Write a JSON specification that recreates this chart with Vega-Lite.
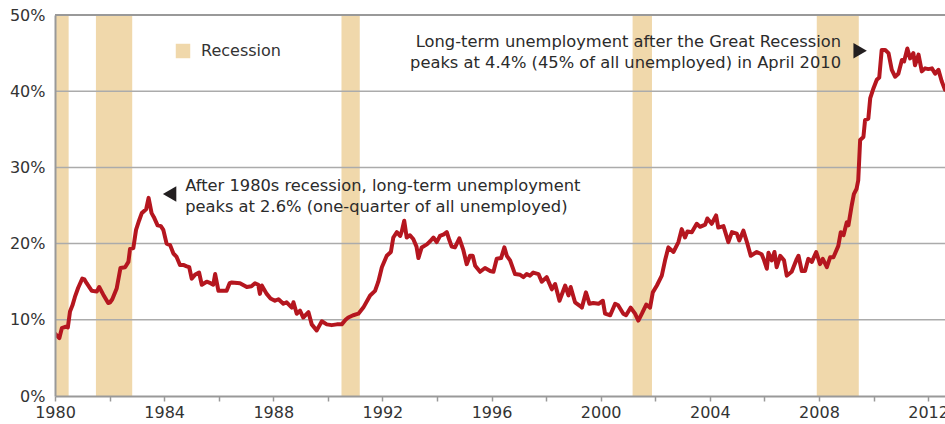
{
  "$schema": "https://vega.github.io/schema/vega-lite/v6.json",
  "width": 890,
  "height": 381,
  "autosize": {"type": "none"},
  "padding": {"left": 55, "top": 15, "right": 0, "bottom": 28},
  "background": "white",
  "config": {"view": {"stroke": null}, "font": "DejaVu Sans"},
  "layer": [
    {
      "data": {"values": [
        {"s": 1980.0, "e": 1980.5, "k": "Recession"},
        {"s": 1981.5, "e": 1982.83, "k": "Recession"},
        {"s": 1990.5, "e": 1991.17, "k": "Recession"},
        {"s": 2001.17, "e": 2001.88, "k": "Recession"},
        {"s": 2007.92, "e": 2009.46, "k": "Recession"}
      ]},
      "mark": {"type": "rect"},
      "encoding": {
        "x": {"field": "s", "type": "quantitative", "scale": {"domain": [1980, 2012.62], "nice": false, "zero": false}, "title": null},
        "x2": {"field": "e"},
        "color": {"field": "k", "type": "nominal", "scale": {"range": ["#F0D8AB"]},
          "legend": {"orient": "none", "legendX": 120, "legendY": 28, "title": null, "symbolType": "square", "symbolSize": 210, "symbolStrokeWidth": 0, "symbolOpacity": 1, "labelFontSize": 16, "labelFont": "DejaVu Sans", "labelColor": "#333333", "labelOffset": 10, "padding": 0}}
      }
    },
    {
      "data": {"values": [{"g": 10}, {"g": 20}, {"g": 30}, {"g": 40}, {"g": 50}]},
      "mark": {"type": "rule"},
      "encoding": {
        "y": {"field": "g", "type": "quantitative", "title": null},
        "color": {"condition": {"test": "datum.g === 50", "value": "#999999"}, "value": "#ababab"},
        "strokeWidth": {"condition": {"test": "datum.g === 50", "value": 2}, "value": 1.5}
      }
    },
    {
      "data": {"values": [
        {"t":1980.00,"v":8.2},{"t":1980.16,"v":7.6},{"t":1980.25,"v":8.9},{"t":1980.40,"v":9.1},{"t":1980.47,"v":9.0},{"t":1980.55,"v":11.1},{"t":1980.64,"v":11.9},{"t":1980.73,"v":13.0},{"t":1980.85,"v":14.2},{"t":1981.00,"v":15.4},{"t":1981.08,"v":15.3},{"t":1981.16,"v":14.8},{"t":1981.35,"v":13.8},{"t":1981.53,"v":13.7},{"t":1981.62,"v":14.3},{"t":1981.77,"v":13.3},{"t":1981.95,"v":12.2},{"t":1982.02,"v":12.3},{"t":1982.10,"v":12.7},{"t":1982.26,"v":14.1},{"t":1982.40,"v":16.8},{"t":1982.57,"v":16.9},{"t":1982.69,"v":17.6},{"t":1982.75,"v":19.3},{"t":1982.87,"v":19.4},{"t":1982.97,"v":21.8},{"t":1983.08,"v":23.0},{"t":1983.18,"v":24.0},{"t":1983.34,"v":24.5},{"t":1983.43,"v":26.0},{"t":1983.54,"v":24.0},{"t":1983.62,"v":23.5},{"t":1983.76,"v":22.4},{"t":1983.88,"v":22.3},{"t":1983.97,"v":21.8},{"t":1984.09,"v":20.0},{"t":1984.22,"v":19.8},{"t":1984.34,"v":18.7},{"t":1984.45,"v":18.3},{"t":1984.58,"v":17.2},{"t":1984.70,"v":17.2},{"t":1984.83,"v":17.0},{"t":1984.92,"v":16.9},
        {"t":1985.01,"v":15.4},{"t":1985.13,"v":15.9},{"t":1985.28,"v":16.2},{"t":1985.38,"v":14.6},{"t":1985.56,"v":15.0},{"t":1985.70,"v":14.8},{"t":1985.80,"v":14.6},{"t":1985.87,"v":16.0},{"t":1985.99,"v":13.8},{"t":1986.29,"v":13.8},{"t":1986.40,"v":14.8},{"t":1986.48,"v":14.9},{"t":1986.78,"v":14.8},{"t":1987.03,"v":14.3},{"t":1987.20,"v":14.4},{"t":1987.33,"v":14.8},{"t":1987.45,"v":14.6},{"t":1987.51,"v":13.4},{"t":1987.58,"v":14.5},{"t":1987.76,"v":13.4},{"t":1987.90,"v":12.8},{"t":1988.06,"v":12.5},{"t":1988.19,"v":12.7},{"t":1988.37,"v":12.1},{"t":1988.49,"v":12.3},{"t":1988.68,"v":11.6},{"t":1988.74,"v":12.3},{"t":1988.86,"v":10.8},{"t":1988.98,"v":11.2},{"t":1989.10,"v":10.3},{"t":1989.29,"v":11.0},{"t":1989.41,"v":9.4},{"t":1989.59,"v":8.6},{"t":1989.70,"v":9.3},{"t":1989.78,"v":9.8},{"t":1989.96,"v":9.4},
        {"t":1990.14,"v":9.3},{"t":1990.33,"v":9.4},{"t":1990.51,"v":9.4},{"t":1990.65,"v":10.0},{"t":1990.75,"v":10.3},{"t":1990.93,"v":10.6},{"t":1991.12,"v":10.8},{"t":1991.30,"v":11.6},{"t":1991.55,"v":13.2},{"t":1991.73,"v":13.8},{"t":1991.85,"v":15.0},{"t":1991.98,"v":16.9},{"t":1992.16,"v":18.4},{"t":1992.31,"v":18.9},{"t":1992.40,"v":20.8},{"t":1992.53,"v":21.5},{"t":1992.65,"v":21.0},{"t":1992.71,"v":21.6},{"t":1992.80,"v":23.0},{"t":1992.89,"v":20.8},{"t":1993.01,"v":21.1},{"t":1993.13,"v":20.6},{"t":1993.25,"v":19.6},{"t":1993.32,"v":18.1},{"t":1993.44,"v":19.5},{"t":1993.63,"v":19.9},{"t":1993.75,"v":20.3},{"t":1993.87,"v":20.8},{"t":1993.99,"v":20.2},{"t":1994.11,"v":21.0},{"t":1994.25,"v":21.2},{"t":1994.36,"v":21.5},{"t":1994.45,"v":20.5},{"t":1994.54,"v":19.6},{"t":1994.66,"v":19.5},{"t":1994.82,"v":20.7},{"t":1994.97,"v":19.1},
        {"t":1995.09,"v":17.3},{"t":1995.21,"v":18.4},{"t":1995.31,"v":18.4},{"t":1995.40,"v":17.1},{"t":1995.58,"v":16.3},{"t":1995.76,"v":16.8},{"t":1995.95,"v":16.4},{"t":1996.07,"v":16.3},{"t":1996.19,"v":18.0},{"t":1996.35,"v":18.1},{"t":1996.47,"v":19.5},{"t":1996.56,"v":18.4},{"t":1996.68,"v":17.8},{"t":1996.86,"v":16.0},{"t":1997.05,"v":15.9},{"t":1997.17,"v":15.6},{"t":1997.29,"v":16.0},{"t":1997.41,"v":15.8},{"t":1997.53,"v":16.2},{"t":1997.72,"v":16.0},{"t":1997.84,"v":15.0},{"t":1998.02,"v":15.6},{"t":1998.21,"v":14.0},{"t":1998.33,"v":14.7},{"t":1998.49,"v":12.5},{"t":1998.70,"v":14.5},{"t":1998.82,"v":13.2},{"t":1998.90,"v":14.3},{"t":1999.06,"v":12.3},{"t":1999.25,"v":11.8},{"t":1999.31,"v":11.6},{"t":1999.46,"v":13.6},{"t":1999.59,"v":12.1},{"t":1999.73,"v":12.2},{"t":1999.92,"v":12.1},
        {"t":2000.08,"v":12.5},{"t":2000.16,"v":10.8},{"t":2000.35,"v":10.6},{"t":2000.53,"v":12.1},{"t":2000.64,"v":11.9},{"t":2000.83,"v":10.8},{"t":2000.93,"v":10.6},{"t":2001.10,"v":11.6},{"t":2001.26,"v":10.8},{"t":2001.38,"v":9.9},{"t":2001.51,"v":10.8},{"t":2001.67,"v":12.0},{"t":2001.81,"v":11.6},{"t":2001.91,"v":13.6},{"t":2002.06,"v":14.5},{"t":2002.24,"v":15.8},{"t":2002.36,"v":17.8},{"t":2002.48,"v":19.5},{"t":2002.67,"v":18.9},{"t":2002.85,"v":20.2},{"t":2002.97,"v":21.9},{"t":2003.09,"v":20.8},{"t":2003.18,"v":21.6},{"t":2003.34,"v":21.5},{"t":2003.52,"v":22.6},{"t":2003.64,"v":22.2},{"t":2003.83,"v":22.5},{"t":2003.91,"v":23.3},{"t":2004.07,"v":22.6},{"t":2004.23,"v":23.7},{"t":2004.31,"v":22.1},{"t":2004.50,"v":22.3},{"t":2004.68,"v":20.2},{"t":2004.81,"v":21.5},{"t":2004.99,"v":21.3},
        {"t":2005.08,"v":20.4},{"t":2005.23,"v":21.7},{"t":2005.36,"v":20.2},{"t":2005.50,"v":18.4},{"t":2005.72,"v":18.9},{"t":2005.90,"v":18.6},{"t":2005.99,"v":17.8},{"t":2006.09,"v":16.7},{"t":2006.15,"v":18.8},{"t":2006.27,"v":17.8},{"t":2006.37,"v":18.9},{"t":2006.45,"v":16.9},{"t":2006.58,"v":18.4},{"t":2006.72,"v":17.8},{"t":2006.82,"v":15.8},{"t":2007.00,"v":16.3},{"t":2007.19,"v":18.0},{"t":2007.25,"v":18.4},{"t":2007.37,"v":16.4},{"t":2007.49,"v":16.4},{"t":2007.61,"v":18.0},{"t":2007.74,"v":17.6},{"t":2007.90,"v":18.9},{"t":2008.04,"v":17.3},{"t":2008.14,"v":18.0},{"t":2008.29,"v":16.9},{"t":2008.41,"v":18.2},{"t":2008.53,"v":18.2},{"t":2008.71,"v":19.7},{"t":2008.80,"v":21.5},{"t":2008.90,"v":21.1},{"t":2009.02,"v":22.8},{"t":2009.08,"v":22.4},{"t":2009.20,"v":25.0},{"t":2009.28,"v":26.5},{"t":2009.38,"v":27.2},{"t":2009.44,"v":28.3},{"t":2009.51,"v":33.6},{"t":2009.63,"v":34.0},{"t":2009.69,"v":36.2},{"t":2009.81,"v":36.4},{"t":2009.88,"v":39.1},
        {"t":2010.00,"v":40.4},{"t":2010.12,"v":41.5},{"t":2010.21,"v":41.8},{"t":2010.30,"v":45.4},{"t":2010.43,"v":45.4},{"t":2010.55,"v":45.0},{"t":2010.67,"v":42.8},{"t":2010.79,"v":41.9},{"t":2010.91,"v":42.3},{"t":2011.04,"v":44.1},{"t":2011.12,"v":43.9},{"t":2011.24,"v":45.6},{"t":2011.34,"v":44.3},{"t":2011.46,"v":45.0},{"t":2011.52,"v":43.4},{"t":2011.65,"v":44.8},{"t":2011.77,"v":42.6},{"t":2011.89,"v":43.0},{"t":2012.01,"v":42.9},{"t":2012.14,"v":43.0},{"t":2012.26,"v":42.3},{"t":2012.38,"v":42.8},{"t":2012.50,"v":41.3},{"t":2012.62,"v":40.2}
      ]},
      "mark": {"type": "line", "color": "#B5161F", "strokeWidth": 4, "strokeJoin": "round", "strokeCap": "round", "clip": true},
      "encoding": {
        "x": {"field": "t", "type": "quantitative", "scale": {"domain": [1980, 2012.62], "nice": false, "zero": false},
          "axis": {"title": null, "values": [1980,1982,1984,1986,1988,1990,1992,1994,1996,1998,2000,2002,2004,2006,2008,2010,2012],
            "labelExpr": "datum.value % 4 === 0 ? format(datum.value, 'd') : ''", "labelFlush": false, "labelOverlap": false,
            "grid": false, "domainColor": "#999999", "domainWidth": 2, "tickColor": "#999999", "tickWidth": 1.5, "tickSize": 5,
            "labelFont": "DejaVu Sans", "labelFontSize": 16, "labelColor": "#333333", "labelPadding": 3, "zindex": 1}},
        "y": {"field": "v", "type": "quantitative", "scale": {"domain": [0, 50], "nice": false},
          "axis": {"title": null, "values": [0,10,20,30,40,50], "labelExpr": "datum.value + '%'", "grid": false, "ticks": false,
            "domainColor": "#999999", "domainWidth": 2, "labelFont": "DejaVu Sans", "labelFontSize": 16, "labelColor": "#333333", "labelPadding": 10, "zindex": 1}}
      }
    },
    {
      "data": {"values": [{"t": 1984.77, "v": 26.9, "txt": ["After 1980s recession, long-term unemployment", "peaks at 2.6% (one-quarter of all unemployed)"]}]},
      "mark": {"type": "text", "align": "left", "baseline": "alphabetic", "fontSize": 16.3, "font": "DejaVu Sans", "color": "#2b2b2b", "lineHeight": 21},
      "encoding": {"x": {"field": "t", "type": "quantitative"}, "y": {"field": "v", "type": "quantitative"}, "text": {"field": "txt"}}
    },
    {
      "data": {"values": [{"t": 2008.81, "v": 45.8, "txt": ["Long-term unemployment after the Great Recession", "peaks at 4.4% (45% of all unemployed) in April 2010"]}]},
      "mark": {"type": "text", "align": "right", "baseline": "alphabetic", "fontSize": 16.3, "font": "DejaVu Sans", "color": "#2b2b2b", "lineHeight": 20.5},
      "encoding": {"x": {"field": "t", "type": "quantitative"}, "y": {"field": "v", "type": "quantitative"}, "text": {"field": "txt"}}
    },
    {
      "data": {"values": [{"t": 1984.2, "v": 26.5, "dir": "left"}, {"t": 2009.51, "v": 45.3, "dir": "right"}]},
      "mark": {"type": "point", "filled": true, "color": "#231f20", "opacity": 1, "size": 240},
      "encoding": {"x": {"field": "t", "type": "quantitative"}, "y": {"field": "v", "type": "quantitative"},
        "shape": {"field": "dir", "type": "nominal", "scale": {"domain": ["left", "right"], "range": ["triangle-left", "triangle-right"]}, "legend": null}}
    }
  ]
}
